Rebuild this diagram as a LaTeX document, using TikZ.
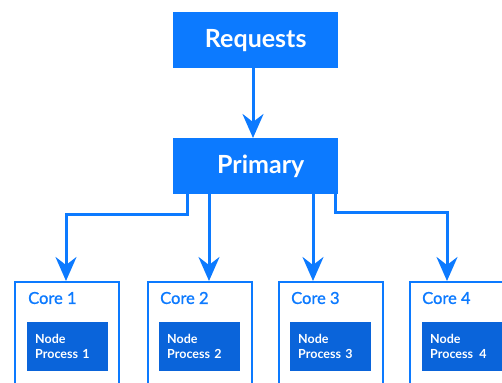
\documentclass[tikz,border=0pt]{standalone}
\usepackage{fontspec}
\setmainfont{Lato}
\usetikzlibrary{arrows.meta}
\definecolor{brandblue}{RGB}{12,122,255}
\definecolor{procblue}{RGB}{10,100,218}
\tikzset{
  topbox/.style={fill=brandblue, draw=none, text=white, font=\bfseries\fontsize{25}{28}\selectfont,
                 minimum width=165pt, minimum height=56pt, inner sep=0pt, anchor=north west},
  corebox/.style={draw=brandblue, line width=2.4pt, fill=white, minimum width=104pt,
                  minimum height=115pt, inner sep=0pt, anchor=north west},
  corelabel/.style={text=brandblue, font=\addfontfeature{FakeBold=1.2}\fontsize{16.5}{18}\selectfont,
                    anchor=west, inner sep=0pt},
  procbox/.style={fill=procblue, text=white, font=\bfseries\fontsize{12.5}{15}\selectfont,
                  minimum width=81pt, minimum height=49pt, inner xsep=8pt, inner ysep=0pt,
                  anchor=north west, text width=65pt, align=left},
  link/.style={draw=brandblue, line width=3pt,
               -{Stealth[length=24pt, width=21pt, inset=8pt]}}
}
\begin{document}
\begin{tikzpicture}[x=1pt, y=-1pt]
  \useasboundingbox (0,0) rectangle (502,382);

  % request source and dispatcher
  \node[topbox] (req) at (173,12) {Requests};
  \node[topbox] (pri) at (173,138) {\hspace*{10pt}Primary};

  % worker cores
  \node[corebox] (c1) at (14,281) {};
  \node[corebox] (c2) at (147,281) {};
  \node[corebox] (c3) at (278,281) {};
  \node[corebox] (c4) at (409,281) {};

  \node[corelabel] (l1) at (28,298) {Core 1};
  \node[corelabel] (l2) at (160,298) {Core 2};
  \node[corelabel] (l3) at (291,298) {Core 3};
  \node[corelabel] (l4) at (422,298) {Core 4};

  \node[procbox] (p1) at (27,322) {Node\\Process 1};
  \node[procbox] (p2) at (159,322) {Node\\Process 2};
  \node[procbox] (p3) at (290,322) {Node\\Process 3};
  \node[procbox] (p4) at (422,322) {Node\\Process\enspace4};

  % connectors
  \draw[link] (req.south -| 253,0) -- (pri.north -| 253,0);
  \draw[link] (pri.south -| 187,0) |- (66,214) -- (c1.north -| 66,0);
  \draw[link] (pri.south -| 209,0) -- (c2.north -| 209,0);
  \draw[link] (pri.south -| 313,0) -- (c3.north -| 313,0);
  \draw[link] (pri.south -| 335,0) |- (447,212) -- (c4.north -| 447,0);
\end{tikzpicture}
\end{document}
